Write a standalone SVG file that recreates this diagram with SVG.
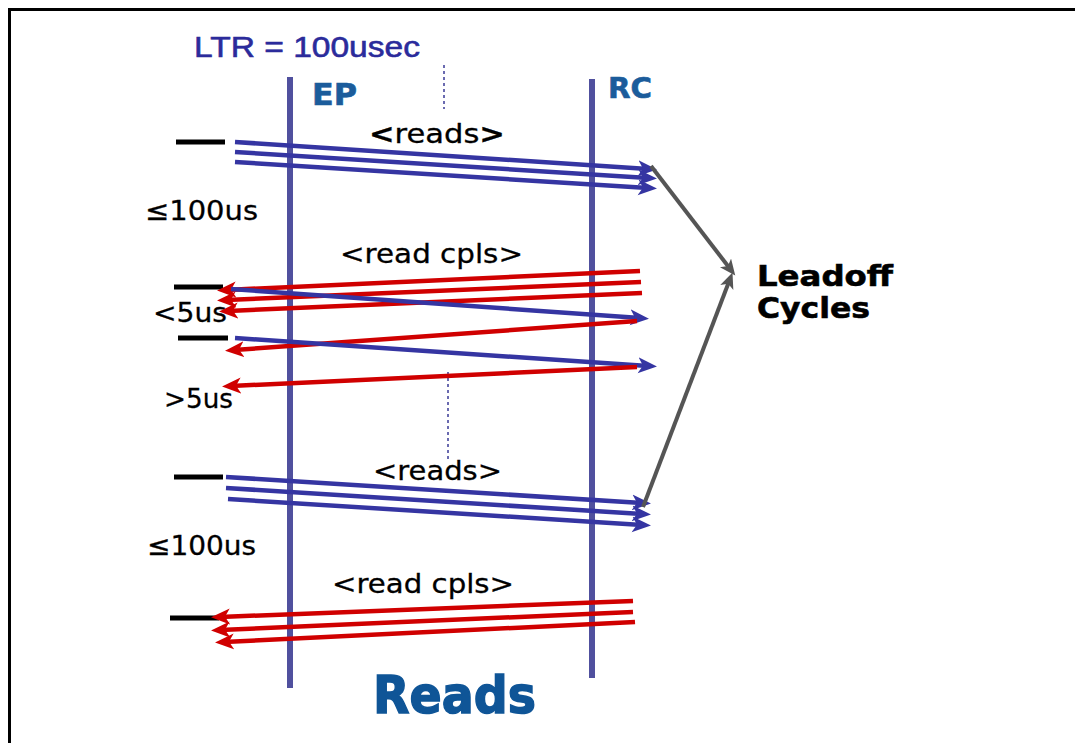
<svg xmlns="http://www.w3.org/2000/svg" width="1075" height="743" viewBox="0 0 1075 743">
<style>
.life{stroke:#50509e;stroke-width:6;fill:none}
.b{stroke:#3535a2;stroke-width:4.5;fill:none;marker-end:url(#hb)}
.r{stroke:#d00000;stroke-width:4.5;fill:none;marker-end:url(#hr)}
.g{stroke:#555555;stroke-width:4;fill:none;marker-end:url(#hg)}
.dash{stroke:#000;stroke-width:5}
.dot{stroke:#6a6ab0;stroke-width:2;stroke-dasharray:3 3}
.lbl{font-family:"DejaVu Sans",Verdana,sans-serif;font-size:27px;fill:#000;stroke:#000;stroke-width:0.3}
.hd{font-family:"DejaVu Sans",Verdana,sans-serif;font-weight:bold;fill:#1b5c9b;stroke:#1b5c9b;stroke-width:0.6}
.lo{font-family:"DejaVu Sans",Verdana,sans-serif;font-weight:bold;font-size:29px;fill:#000;stroke:#000;stroke-width:0.6}
</style>
<defs>
<marker id="hb" markerUnits="userSpaceOnUse" markerWidth="20" markerHeight="18" refX="10" refY="8" orient="auto"><path d="M0,0 L19,8 L0,16 L5,8 z" fill="#3535a2"/></marker>
<marker id="hr" markerUnits="userSpaceOnUse" markerWidth="20" markerHeight="18" refX="10" refY="8" orient="auto"><path d="M0,0 L19,8 L0,16 L5,8 z" fill="#d00000"/></marker>
<marker id="hg" markerUnits="userSpaceOnUse" markerWidth="18" markerHeight="16" refX="9" refY="7" orient="auto"><path d="M0,0 L16,7 L0,14 L4,7 z" fill="#555555"/></marker>
</defs>
<rect width="1075" height="743" fill="#fff"/>
<path d="M9.5,743 V9.5 H1075" stroke="#000" stroke-width="3" fill="none"/>
<g id="title"><text x="194" y="57" font-family="Liberation Sans,Arial,sans-serif" font-size="30" fill="#2b2b9b" stroke="#2b2b9b" stroke-width="0.6" textLength="226" lengthAdjust="spacingAndGlyphs">LTR = 100usec</text></g>
<g id="EP"><line class="life" x1="290" y1="77" x2="290" y2="688"/><text class="hd" x="312" y="105" font-size="30" textLength="45" lengthAdjust="spacingAndGlyphs">EP</text></g>
<g id="RC"><line class="life" x1="592" y1="79" x2="592" y2="678"/><text class="hd" x="608" y="98" font-size="29" textLength="44" lengthAdjust="spacingAndGlyphs">RC</text></g>
<g id="dotted"><line class="dot" x1="444" y1="65" x2="444" y2="109"/><line class="dot" x1="448" y1="372" x2="448" y2="460"/></g>
<g id="ticks">
<line class="dash" x1="176" y1="142" x2="225" y2="142"/>
<line class="dash" x1="174" y1="287" x2="223" y2="287"/>
<line class="dash" x1="178" y1="338" x2="228" y2="338"/>
<line class="dash" x1="174" y1="477" x2="223" y2="477"/>
<line class="dash" x1="170" y1="618" x2="219" y2="618"/>
</g>
<g id="labels">
<text class="lbl" x="369" y="143" textLength="136" lengthAdjust="spacingAndGlyphs"><tspan font-weight="bold">&lt;</tspan>reads<tspan font-weight="bold">&gt;</tspan></text>
<text class="lbl" x="145" y="220" textLength="113" lengthAdjust="spacingAndGlyphs">≤100us</text>
<text class="lbl" x="340" y="263" textLength="183" lengthAdjust="spacingAndGlyphs">&lt;read cpls&gt;</text>
<text class="lbl" x="153" y="322" textLength="74" lengthAdjust="spacingAndGlyphs">&lt;5us</text>
<text class="lbl" x="164" y="408" textLength="69" lengthAdjust="spacingAndGlyphs">&gt;5us</text>
<text class="lbl" x="373" y="480" textLength="129" lengthAdjust="spacingAndGlyphs">&lt;reads&gt;</text>
<text class="lbl" x="147" y="555" textLength="109" lengthAdjust="spacingAndGlyphs">≤100us</text>
<text class="lbl" x="332" y="593" textLength="182" lengthAdjust="spacingAndGlyphs">&lt;read cpls&gt;</text>
</g>
<g id="leadoff"><text class="lo" x="757" y="286" textLength="136" lengthAdjust="spacingAndGlyphs">Leadoff</text><text class="lo" x="757" y="318" textLength="113" lengthAdjust="spacingAndGlyphs">Cycles</text></g>
<g id="reads-title"><text x="373" y="713" font-family="DejaVu Sans,Verdana,sans-serif" font-weight="bold" font-size="52" fill="#0f5597" stroke="#0f5597" stroke-width="1.5" textLength="163" lengthAdjust="spacingAndGlyphs">Reads</text></g>
<g id="connectors">
<line class="b" x1="235" y1="142" x2="648" y2="169"/>
<line class="b" x1="235" y1="152" x2="648" y2="178"/>
<line class="b" x1="235" y1="162" x2="648" y2="188"/>
<line class="r" x1="640" y1="271" x2="226" y2="290"/>
<line class="r" x1="641" y1="282" x2="226" y2="300"/>
<line class="r" x1="642" y1="293" x2="228" y2="311"/>
<line class="b" x1="231" y1="289" x2="640" y2="318"/>
<line class="r" x1="637" y1="321" x2="234" y2="350"/>
<line class="b" x1="235" y1="338" x2="648" y2="366"/>
<line class="r" x1="637" y1="367" x2="231" y2="386"/>
<line class="b" x1="226" y1="477" x2="642" y2="503"/>
<line class="b" x1="226" y1="488" x2="642" y2="514"/>
<line class="b" x1="228" y1="499" x2="642" y2="525"/>
<line class="r" x1="633" y1="601" x2="220" y2="617"/>
<line class="r" x1="633" y1="612" x2="220" y2="630"/>
<line class="r" x1="635" y1="622" x2="224" y2="642"/>
<line class="g" x1="651" y1="166" x2="731" y2="270"/>
<line class="g" x1="643" y1="507" x2="730" y2="279"/>
</g>
</svg>
